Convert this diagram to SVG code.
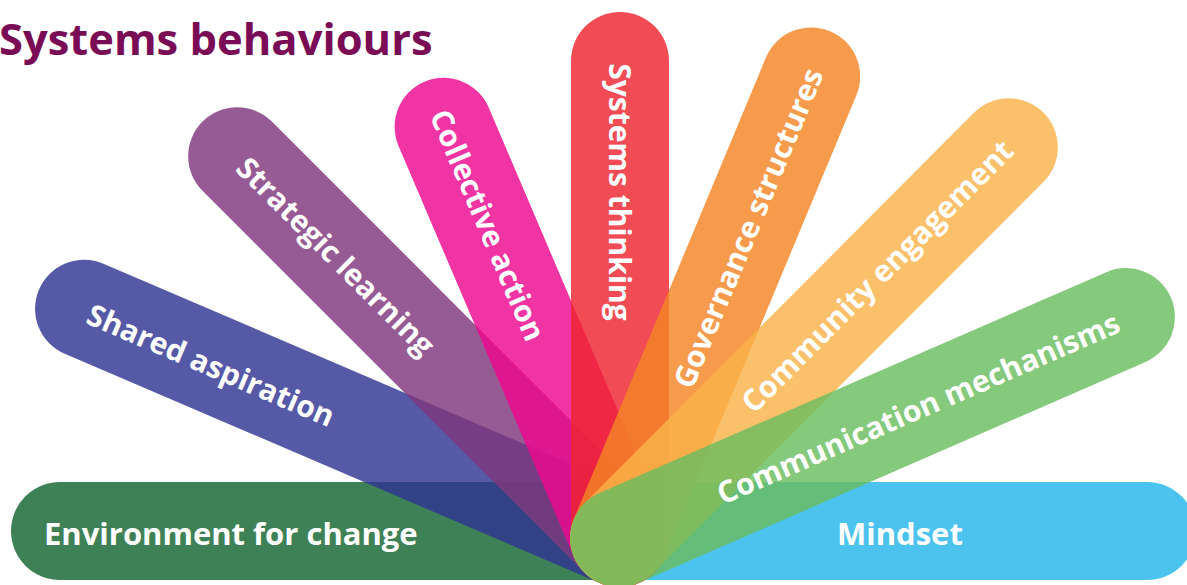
<svg xmlns="http://www.w3.org/2000/svg" width="1187" height="585" viewBox="0 0 1187 585">
<style>
  .bar { fill-opacity: 0.82; }
  .lbl { font-family: "Open Sans", "Liberation Sans", sans-serif; font-weight: 700; fill: #ffffff; font-size: 30px; }
  .hl { font-size: 31px; }
  .title { font-family: "Open Sans", "Liberation Sans", sans-serif; font-weight: 700; fill: #7a0c56; font-size: 43.5px; }
</style>
<rect width="1187" height="585" fill="#ffffff"/>
<text class="title" x="-1" y="55">Systems behaviours</text>
<g id="connectors"></g>
<g id="environment-for-change">
  <rect class="bar" x="11" y="482" width="657" height="98" rx="49" fill="#156531"/>
  <text class="lbl hl" x="44" y="545">Environment for change</text>
</g>
<g id="mindset">
  <rect class="bar" x="562" y="482" width="634" height="98" rx="49" fill="#25b6ea"/>
  <text class="lbl hl" x="837" y="545">Mindset</text>
</g>
<g id="shared-aspiration">
  <rect class="bar" transform="translate(619 538) rotate(203.2)" x="-49" y="-49" width="680" height="98" rx="49" fill="#303593"/>
  <text class="lbl" transform="translate(211 365) rotate(23.2)" x="0" y="11" text-anchor="middle">Shared aspiration</text>
</g>
<g id="strategic-learning">
  <rect class="bar" transform="translate(619 538) rotate(225)" x="-49" y="-49" width="638" height="98" rx="49" fill="#7f377d"/>
  <text class="lbl" transform="translate(336 256) rotate(45)" x="0" y="11" text-anchor="middle">Strategic learning</text>
</g>
<g id="collective-action">
  <rect class="bar" transform="translate(619 538) rotate(246.9)" x="-49" y="-49" width="545" height="98" rx="49" fill="#ee078f"/>
  <text class="lbl" transform="translate(488 225) rotate(66.9)" x="0" y="11" text-anchor="middle">Collective action</text>
</g>
<g id="systems-thinking">
  <rect class="bar" transform="translate(620 538) rotate(270)" x="-49" y="-49" width="575" height="98" rx="49" fill="#ee252f"/>
  <text class="lbl" transform="translate(620 192) rotate(90)" x="0" y="11" text-anchor="middle">Systems thinking</text>
</g>
<g id="governance-structures">
  <rect class="bar" transform="translate(619 538) rotate(292.6)" x="-49" y="-49" width="598" height="98" rx="49" fill="#f48525"/>
  <text class="lbl" transform="translate(748 228) rotate(-67.4)" x="0" y="11" text-anchor="middle">Governance structures</text>
</g>
<g id="community-engagement">
  <rect class="bar" transform="translate(619 538) rotate(314.93)" x="-49" y="-49" width="650" height="98" rx="49" fill="#f9b249"/>
  <text class="lbl" transform="translate(877 276) rotate(-45.07)" x="0" y="11" text-anchor="middle">Community engagement</text>
</g>
<g id="communication-mechanisms">
  <rect class="bar" transform="translate(619 538) rotate(336.45)" x="-49" y="-49" width="651" height="98" rx="49" fill="#6abd5f"/>
  <text class="lbl" transform="translate(918 408) rotate(-23.55)" x="0" y="11" text-anchor="middle">Communication mechanisms</text>
</g>
</svg>
